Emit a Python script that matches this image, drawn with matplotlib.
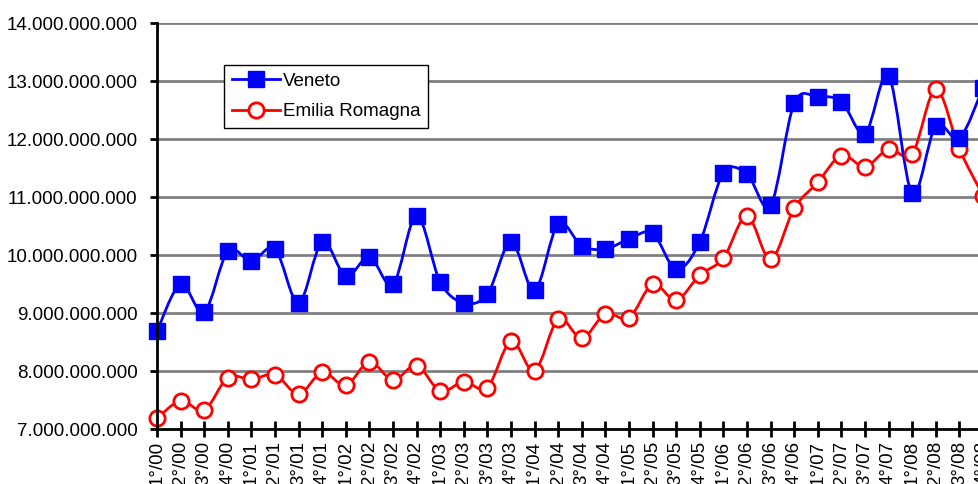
import matplotlib
matplotlib.use('Agg')
import matplotlib.pyplot as plt
from matplotlib.path import Path
from matplotlib.patches import PathPatch
from matplotlib.lines import Line2D
from matplotlib.ticker import FuncFormatter, FixedLocator
import numpy as np

quarters = ["1°/00", "2°/00", "3°/00", "4°/00", "1°/01", "2°/01", "3°/01", "4°/01",
            "1°/02", "2°/02", "3°/02", "4°/02", "1°/03", "2°/03", "3°/03", "4°/03",
            "1°/04", "2°/04", "3°/04", "4°/04", "1°/05", "2°/05", "3°/05", "4°/05",
            "1°/06", "2°/06", "3°/06", "4°/06", "1°/07", "2°/07", "3°/07", "4°/07",
            "1°/08", "2°/08", "3°/08", "4°/08"]

veneto_bn = [8.69, 9.50, 9.02, 10.07, 9.90, 10.11, 9.18, 10.23,
             9.64, 9.97, 9.50, 10.68, 9.54, 9.18, 9.33, 10.23,
             9.40, 10.54, 10.16, 10.11, 10.28, 10.38, 9.76, 10.23,
             11.42, 11.40, 10.86, 12.62, 12.73, 12.65, 12.10, 13.09,
             11.07, 12.23, 12.02, 12.89]
emilia_bn = [7.19, 7.49, 7.33, 7.89, 7.86, 7.94, 7.61, 7.98,
             7.76, 8.16, 7.85, 8.10, 7.66, 7.82, 7.72, 8.52,
             8.01, 8.90, 8.57, 8.99, 8.92, 9.50, 9.23, 9.66,
             9.95, 10.68, 9.93, 10.81, 11.26, 11.72, 11.53, 11.83,
             11.75, 12.86, 11.83, 11.03]

y_ticks = [7e9, 8e9, 9e9, 10e9, 11e9, 12e9, 13e9, 14e9]

FONT = 'Liberation Sans'
FS = 13.5

W, H = 979, 484
fig = plt.figure(figsize=(W / 100, H / 100), dpi=100)
fig.patch.set_facecolor('white')

left_px, top_px, bottom_px = 157, 23.3, 429.3
step_px = 23.6
n_span = 36
right_px = left_px + n_span * step_px
ax = fig.add_axes([left_px / W, 1 - bottom_px / H,
                   (right_px - left_px) / W, (bottom_px - top_px) / H])

x = np.arange(len(quarters))
veneto = np.array(veneto_bn) * 1e9
emilia = np.array(emilia_bn) * 1e9


def smooth_path(xs, ys):
    pts = np.column_stack([xs, ys])
    n = len(pts)
    verts = [pts[0]]
    codes = [Path.MOVETO]
    for i in range(n - 1):
        p0 = pts[i - 1] if i > 0 else pts[i]
        p1 = pts[i]
        p2 = pts[i + 1]
        p3 = pts[i + 2] if i + 2 < n else pts[i + 1]
        c1 = p1 + (p2 - p0) / 6.0
        c2 = p2 - (p3 - p1) / 6.0
        verts += [c1, c2, p2]
        codes += [Path.CURVE4] * 3
    return Path(verts, codes)


ax.set_xlim(0, n_span)
ax.set_ylim(7e9, 14e9)

for val in y_ticks[1:]:
    ax.axhline(val, color='#808080', lw=2, zorder=1)

blue = '#0000FF'
red = '#FF0000'

ax.add_patch(PathPatch(smooth_path(x, emilia), facecolor='none', edgecolor=red,
                       lw=2, zorder=3, clip_on=False))
ax.add_patch(PathPatch(smooth_path(x, veneto), facecolor='none', edgecolor=blue,
                       lw=2, zorder=3, clip_on=False))
ax.plot(x, emilia, linestyle='none', marker='o', ms=11, mfc='white', mec=red,
        mew=2, zorder=4, clip_on=False)
ax.plot(x, veneto, linestyle='none', marker='s', ms=11, mfc=blue, mec=blue,
        mew=1, zorder=5, clip_on=False)

for s in ['top', 'right']:
    ax.spines[s].set_visible(False)
for s in ['left', 'bottom']:
    ax.spines[s].set_color('black')
    ax.spines[s].set_linewidth(2)
    ax.spines[s].set_zorder(6)

ax.yaxis.set_major_locator(FixedLocator(y_ticks))
ax.yaxis.set_major_formatter(FuncFormatter(lambda v, p: f"{int(round(v)):,}".replace(',', '.')))
ax.set_xticks(x)
ax.set_xticklabels(quarters, rotation=90, va='top', ha='center')
ax.tick_params(axis='y', direction='out', length=5, width=2, pad=9,
               labelsize=FS, color='black')
ax.tick_params(axis='x', direction='inout', length=11, width=2, pad=3,
               labelsize=FS, color='black')
for lab in ax.get_xticklabels() + ax.get_yticklabels():
    lab.set_fontfamily(FONT)

handles = [Line2D([], [], color=blue, lw=2, marker='s', ms=11, mfc=blue, mec=blue),
           Line2D([], [], color=red, lw=2, marker='o', ms=11, mfc='white', mec=red, mew=2)]
leg = fig.legend(handles, ['Veneto', 'Emilia Romagna'], loc='upper left',
                 bbox_to_anchor=(224 / W, 1 - 65 / H), bbox_transform=fig.transFigure,
                 borderaxespad=0, fancybox=False, shadow=False, framealpha=1,
                 edgecolor='black', handlelength=2.6, handletextpad=0.15,
                 borderpad=0.4, labelspacing=0.72,
                 prop={'family': FONT, 'size': FS})
leg.get_frame().set_linewidth(1)

fig.savefig('out.png', dpi=100, facecolor='white')
